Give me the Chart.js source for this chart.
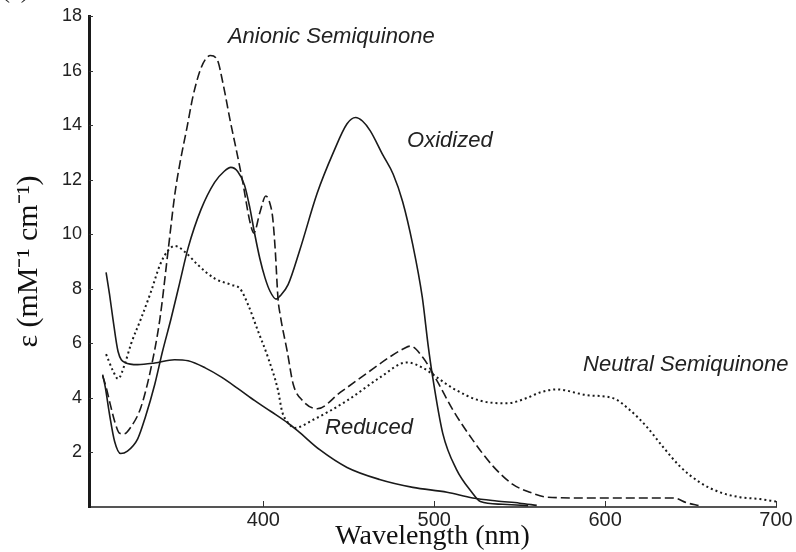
<!DOCTYPE html>
<html>
<head>
<meta charset="utf-8">
<script src="https://cdn.jsdelivr.net/npm/chart.js@4.4.1/dist/chart.umd.min.js"></script>
<style>
  html, body { margin: 0; padding: 0; background: #fff; }
</style>
</head>
<body>
<canvas id="espectro" width="796" height="552"></canvas>
<script>
// SPECTRA: wavelength (nm) / epsilon (mM-1 cm-1)
const oxidizedNm  = [306, 307.5, 310, 313, 316.5, 320.5, 326.5, 331, 336.5, 341, 346, 351, 356, 363.5, 371.5, 377, 381, 385, 389, 392, 395, 398, 401, 404, 407.5, 410, 414.5, 421.5, 431.5, 441, 449, 454, 458, 462.5, 470, 476, 481.5, 487.5, 493, 496.5, 499, 505, 513, 522, 527, 540, 555]
const oxidizedEps = [4.85, 4.4, 3.4, 2.4, 1.96, 2.05, 2.5, 3.3, 4.5, 5.7, 6.9, 8.2, 9.5, 10.9, 11.9, 12.3, 12.45, 12.3, 11.8, 11.0, 10.0, 9.1, 8.4, 7.9, 7.62, 7.75, 8.15, 9.45, 11.5, 13.0, 14.05, 14.28, 14.15, 13.8, 12.9, 12.2, 11.2, 9.6, 7.7, 5.9, 4.8, 2.7, 1.38, 0.54, 0.2, 0.1, 0.05]

const reducedNm  = [308, 310, 312, 315, 319, 326.5, 336.5, 348, 356, 366, 375.5, 385, 395, 404.5, 414.5, 420, 433, 449, 468, 487.5, 507.5, 522.5, 536.5, 550, 560]
const reducedEps = [8.6, 7.8, 6.9, 5.7, 5.3, 5.22, 5.28, 5.4, 5.36, 5.1, 4.76, 4.35, 3.9, 3.5, 3.07, 2.8, 2.1, 1.45, 1.01, 0.72, 0.54, 0.33, 0.22, 0.14, 0.06]

const anionicNm  = [306, 308, 310.3, 313.2, 316, 318.5, 322.5, 328.4, 334.3, 339.5, 344.2, 348.3, 351.2, 355.3, 359, 363, 366, 369, 373, 376.5, 380.5, 384.5, 388, 392, 394.5, 398, 401.5, 404, 405.5, 407, 408.6, 410, 414, 417.5, 423, 431.5, 445, 460.5, 474, 482, 486, 493.5, 501.5, 511, 522.5, 534.5, 546, 556, 566, 590, 620, 640, 648, 655]
const anionicEps = [4.8, 4.4, 3.8, 3.1, 2.7, 2.68, 2.93, 3.66, 5.1, 6.9, 9.35, 11.5, 12.6, 13.9, 15.1, 16.0, 16.4, 16.55, 16.4, 15.5, 14.2, 13.0, 11.9, 10.5, 10.05, 10.8, 11.4, 11.1, 10.6, 9.4, 7.64, 7.0, 5.7, 4.5, 3.9, 3.6, 4.2, 4.9, 5.5, 5.8, 5.9, 5.47, 4.64, 3.55, 2.46, 1.49, 0.83, 0.54, 0.36, 0.33, 0.33, 0.33, 0.15, 0.05]

const neutralNm  = [308, 312, 315, 319, 322.6, 328.4, 334.3, 339.5, 344.2, 348.3, 354.2, 361.8, 371.7, 381, 386.4, 391, 396.9, 402.8, 408.6, 411, 414.4, 418.5, 429, 449, 468.3, 484, 493.4, 501.6, 511, 526.8, 542.6, 554.3, 561.9, 571.8, 589.4, 604.6, 614.6, 624.5, 633.9, 643.8, 655.5, 667.2, 678.9, 690.6, 700]
const neutralEps = [5.6, 5.0, 4.7, 5.25, 5.98, 6.9, 7.9, 8.87, 9.4, 9.57, 9.35, 8.87, 8.37, 8.15, 8.0, 7.43, 6.45, 5.47, 4.28, 3.5, 3.1, 2.9, 3.19, 3.9, 4.75, 5.3, 5.1, 4.75, 4.35, 3.9, 3.8, 4.0, 4.2, 4.31, 4.1, 3.99, 3.55, 2.93, 2.2, 1.49, 0.9, 0.54, 0.36, 0.29, 0.2]

const xTicks = [400, 500, 600, 700]
const yTicks = [2, 4, 6, 8, 10, 12, 14, 16, 18]

// curve names written inside the plot (anchored in data units)
const curveLabels = ['Anionic Semiquinone', 'Oxidized', 'Neutral Semiquinone', 'Reduced']
const labelNm  = [379.3, 484.1, 587.1, 436.1]
const labelEps = [17.25, 13.44, 5.22, 2.9]

function pares(nm, eps){
    return nm.map((v, i) => ({ x: v, y: eps[i] }))
}

function serie(nome, nm, eps, dash, largura){
    return {
        label: nome,
        data: pares(nm, eps),
        borderColor: '#1a1a1a',
        borderWidth: largura,
        borderDash: dash,
        pointRadius: 0,
        fill: false,
        cubicInterpolationMode: 'monotone'
    }
}

// little inward ticks, curve names and the cut "(a)"
const extras = {
    id: 'extras',
    afterDraw(chart){
        const ctx = chart.ctx
        const sx = chart.scales.x
        const sy = chart.scales.y
        const a = chart.chartArea
        ctx.save()
        ctx.strokeStyle = '#333'
        ctx.lineWidth = 1
        ctx.beginPath()
        xTicks.forEach(v => {
            const px = Math.round(sx.getPixelForValue(v)) + 0.5
            ctx.moveTo(px, a.bottom)
            ctx.lineTo(px, a.bottom - 6)
        })
        yTicks.forEach(v => {
            const py = Math.round(sy.getPixelForValue(v)) + 0.5
            ctx.moveTo(a.left, py)
            ctx.lineTo(a.left + 4, py)
        })
        ctx.stroke()

        ctx.fillStyle = '#222'
        ctx.font = 'italic 22px "Liberation Sans"'
        ctx.textAlign = 'left'
        ctx.textBaseline = 'middle'
        curveLabels.forEach((t, i) => {
            ctx.fillText(t, sx.getPixelForValue(labelNm[i]), sy.getPixelForValue(labelEps[i]))
        })

        ctx.font = '24px "Liberation Serif"'
        ctx.textBaseline = 'alphabetic'
        ctx.fillText('(a)', 2, -2)
        ctx.restore()
    }
}

var ctx = document.getElementById('espectro').getContext('2d')
var grafico = new Chart(ctx, {
    type: 'line',
    data: {
        datasets: [
            serie('Oxidized', oxidizedNm, oxidizedEps, [], 1.6),
            serie('Reduced', reducedNm, reducedEps, [], 1.6),
            serie('Anionic Semiquinone', anionicNm, anionicEps, [9, 4], 1.6),
            serie('Neutral Semiquinone', neutralNm, neutralEps, [2, 3], 2)
        ]
    },
    options: {
        responsive: false,
        animation: false,
        layout: { padding: { left: 0, right: 20, top: 14, bottom: 0 } },
        plugins: {
            legend: { display: false },
            tooltip: { enabled: false }
        },
        scales: {
            x: {
                type: 'linear',
                min: 298,
                max: 700,
                afterBuildTicks: s => { s.ticks = xTicks.map(v => ({ value: v })) },
                afterFit: s => { s.height = 45 },
                grid: { display: false, drawTicks: false },
                border: { color: '#555', width: 2 },
                ticks: {
                    color: '#222',
                    padding: 3,
                    maxRotation: 0,
                    font: { family: 'Liberation Sans', size: 20, lineHeight: 1 }
                },
                title: {
                    display: true,
                    text: 'Wavelength (nm)',
                    color: '#111',
                    font: { family: 'Liberation Serif', size: 28, lineHeight: 1 },
                    padding: { top: 0, bottom: 1 }
                }
            },
            y: {
                type: 'linear',
                min: 0,
                max: 18,
                afterBuildTicks: s => { s.ticks = yTicks.map(v => ({ value: v })) },
                afterFit: s => { s.width = 89 },
                grid: { display: false, drawTicks: false },
                border: { color: '#1a1a1a', width: 3 },
                ticks: {
                    color: '#222',
                    padding: 7,
                    font: { family: 'Liberation Sans', size: 18, lineHeight: 1 }
                },
                title: {
                    display: true,
                    text: 'ε (mM⁻¹ cm⁻¹)',
                    color: '#111',
                    font: { family: 'Liberation Serif', size: 30, lineHeight: 1 },
                    padding: { top: 14, bottom: 0 }
                }
            }
        }
    },
    plugins: [extras]
})
</script>
</body>
</html>
